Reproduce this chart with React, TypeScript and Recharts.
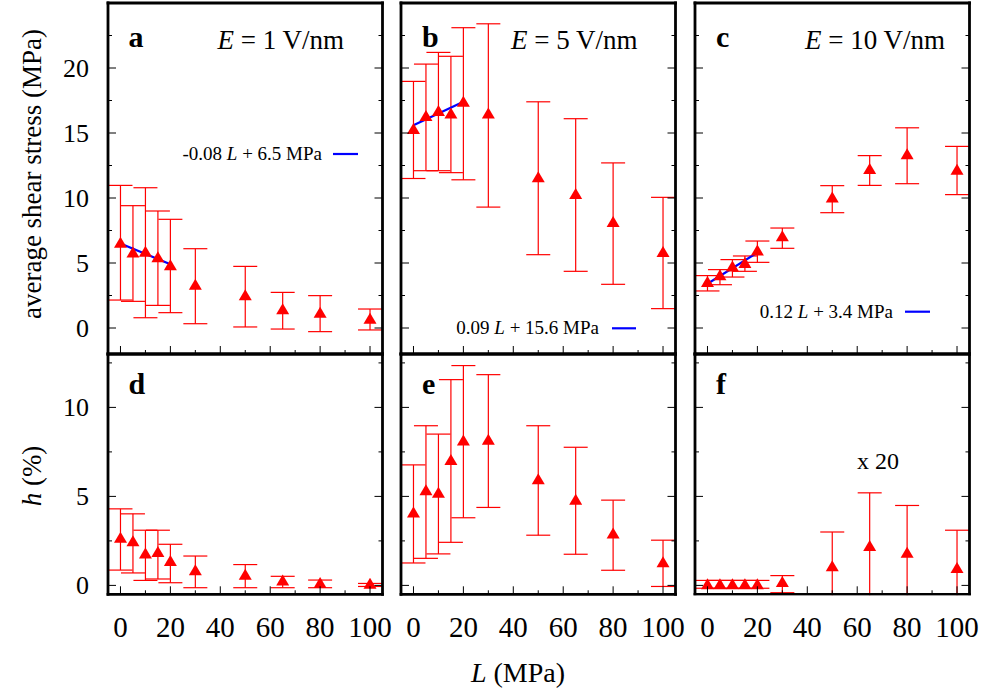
import React from "react";
import { ScatterChart, Scatter, ErrorBar, XAxis, YAxis, ReferenceLine } from "recharts";

const FONT = "Liberation Serif, Tinos, Times New Roman, DejaVu Serif, serif";
const RED = "#ff0000";
const BLUE = "#0000ff";

// load L (MPa)
const L = [0, 5, 10, 15, 20, 30, 50, 65, 80, 100];

// average shear stress (MPa), E = 1, 5, 10 V/nm
const stressE1 = [6.56, 5.8, 5.87, 5.44, 4.82, 3.33, 2.51, 1.44, 1.18, 0.72];
const stressE1Low = [2.15, 2.05, 0.79, 1.74, 1.18, 0.33, 0.08, -0.08, -0.28, -0.15];
const stressE1High = [10.97, 9.41, 10.79, 9.0, 8.36, 6.1, 4.74, 2.74, 2.49, 1.46];

const stressE5 = [15.3, 16.3, 16.7, 16.5, 17.4, 16.5, 11.6, 10.3, 8.15, 5.85];
const stressE5Low = [11.5, 12.1, 12.1, 11.95, 11.4, 9.3, 5.64, 4.36, 3.36, 1.49];
const stressE5High = [18.97, 20.3, 21.2, 20.9, 23.1, 23.4, 17.4, 16.1, 12.7, 10.05];

const stressE10 = [3.54, 4.05, 4.74, 5.0, 5.97, 7.05, 10.03, 12.23, 13.36, 12.18];
const stressE10Low = [2.85, 3.33, 3.92, 4.36, 5.05, 6.13, 8.87, 10.97, 11.1, 10.26];
const stressE10High = [4.03, 4.49, 5.26, 5.54, 6.69, 7.69, 10.95, 13.26, 15.4, 13.97];

// h (%)
const hE1 = [2.67, 2.48, 1.79, 1.88, 1.37, 0.85, 0.6, 0.28, 0.13, 0.09];
const hE1Low = [0.86, 0.7, 0.28, 0.36, 0.15, -0.13, -0.13, -0.13, -0.13, -0.06];
const hE1High = [4.3, 4.02, 3.1, 3.1, 2.31, 1.65, 1.17, 0.51, 0.3, 0.11];

const hE5 = [4.1, 5.34, 5.2, 7.05, 8.14, 8.18, 5.96, 4.81, 2.91, 1.3];
const hE5Low = [1.26, 1.52, 1.77, 2.42, 3.8, 4.38, 2.82, 1.75, 0.85, -0.06];
const hE5High = [6.77, 8.97, 8.5, 11.56, 12.35, 11.84, 8.97, 7.76, 4.79, 2.54];

// panel f is shown x 20
const hE10 = [0.06, 0.06, 0.06, 0.06, 0.06, 0.19, 1.07, 2.22, 1.84, 0.98];
const hE10Low = [-0.16, -0.16, -0.16, -0.16, -0.16, -0.41, -0.86, -0.76, -0.81, -1.14];
const hE10High = [0.28, 0.28, 0.28, 0.28, 0.28, 0.55, 3.0, 5.2, 4.49, 3.1];

// linear fits over L = 0..20
const fitL = [0, 20];
const fitE1 = [6.5, 4.9];
const fitE5 = [15.6, 17.4];
const fitE10 = [3.4, 5.8];
const fitLabels = ["-0.08", "0.09", "0.12"];
const fitIntercepts = ["6.5", "15.6", "3.4"];

const fields = ["1", "5", "10"];
const letters = ["a", "b", "c", "d", "e", "f"];

const X_TICKS = [0, 10, 20, 30, 40, 50, 60, 70, 80, 90, 100];
const TOP_Y_TICKS = [0, 2.5, 5, 7.5, 10, 12.5, 15, 17.5, 20, 22.5];
const BOT_Y_TICKS = [0, 2.5, 5, 7.5, 10, 12.5];

type Row = { L: number; v: number; err: [number, number] };

function rows(vals: number[], lows: number[], highs: number[]): Row[] {
  return L.map((l, i) => ({ L: l, v: vals[i], err: [vals[i] - lows[i], highs[i] - vals[i]] }));
}

const Triangle = (props: any) => {
  const { cx, cy } = props;
  if (cx == null || cy == null) return null;
  return <polygon points={`${cx},${cy - 6} ${cx - 6.5},${cy + 5} ${cx + 6.5},${cy + 5}`} fill={RED} />;
};

function makeTick(side: "bottom" | "top" | "left" | "right", major: number, labels: boolean) {
  return (props: any) => {
    const { x, y, payload } = props;
    const v = payload.value;
    const isMajor = Math.abs(v / major - Math.round(v / major)) < 1e-6;
    const len = isMajor ? 8 : 4;
    let x2 = x;
    let y2 = y;
    if (side === "bottom") y2 = y - len;
    if (side === "top") y2 = y + len;
    if (side === "left") x2 = x + len;
    if (side === "right") x2 = x - len;
    return (
      <g>
        <line x1={x} y1={y} x2={x2} y2={y2} stroke="#000" strokeWidth={1} />
        {labels && isMajor && side === "bottom" && (
          <text x={x} y={y + 43} textAnchor="middle" fill="#000" style={{ fontFamily: FONT, fontSize: 29 }}>
            {v}
          </text>
        )}
        {labels && isMajor && side === "left" && (
          <text x={x - 19} y={y} dy="0.35em" textAnchor="end" fill="#000" style={{ fontFamily: FONT, fontSize: 26 }}>
            {v}
          </text>
        )}
      </g>
    );
  };
}

const frame = { stroke: "#000", strokeWidth: 2.8, strokeLinecap: "square" as const };

type PanelProps = {
  left: number;
  top: number;
  w: number;
  h: number;
  yDomain: [number, number];
  yTicks: number[];
  data: Row[];
  fit?: number[];
  xLabels: boolean;
  yLabels: boolean;
};

function Panel({ left, top, w, h, yDomain, yTicks, data, fit, xLabels, yLabels }: PanelProps) {
  const ML = 60;
  const MR = 15;
  const MT = 15;
  const MB = 55;
  return (
    <div style={{ position: "absolute", left: left - ML, top: top - MT }}>
      <ScatterChart width={w + ML + MR} height={h + MT + MB} margin={{ top: 0, right: 0, bottom: 0, left: 0 }}>
        <XAxis
          xAxisId="b"
          dataKey="L"
          type="number"
          orientation="bottom"
          domain={[-5, 105]}
          ticks={X_TICKS}
          interval={0}
          height={MB}
          tickSize={0}
          tickMargin={0}
          tickLine={false}
          axisLine={frame}
          tick={makeTick("bottom", 20, xLabels)}
          allowDataOverflow
        />
        <XAxis
          xAxisId="t"
          type="number"
          orientation="top"
          domain={[-5, 105]}
          ticks={X_TICKS}
          interval={0}
          height={MT}
          tickSize={0}
          tickMargin={0}
          tickLine={false}
          axisLine={frame}
          tick={makeTick("top", 20, false)}
          allowDataOverflow
        />
        <YAxis
          yAxisId="l"
          dataKey="v"
          type="number"
          orientation="left"
          domain={yDomain}
          ticks={yTicks}
          interval={0}
          width={ML}
          tickSize={0}
          tickMargin={0}
          tickLine={false}
          axisLine={frame}
          tick={makeTick("left", 5, yLabels)}
          allowDataOverflow
        />
        <YAxis
          yAxisId="r"
          type="number"
          orientation="right"
          domain={yDomain}
          ticks={yTicks}
          interval={0}
          width={MR}
          tickSize={0}
          tickMargin={0}
          tickLine={false}
          axisLine={frame}
          tick={makeTick("right", 5, false)}
          allowDataOverflow
        />
        <Scatter xAxisId="b" yAxisId="l" data={data} dataKey="v" fill={RED} shape={Triangle} isAnimationActive={false}>
          <ErrorBar dataKey="err" direction="y" width={12} stroke={RED} strokeWidth={1.2} isAnimationActive={false} />
        </Scatter>
        {fit && (
          <ReferenceLine
            xAxisId="b"
            yAxisId="l"
            segment={[
              { x: fitL[0], y: fit[0] },
              { x: fitL[1], y: fit[1] },
            ]}
            stroke={BLUE}
            strokeWidth={2.2}
          />
        )}
      </ScatterChart>
    </div>
  );
}

const COL_LEFT = [107.5, 401, 695];
const PW = 274.5;
const TOP_Y = 2.7;
const TOP_H = 351;
const BOT_Y = 353.7;
const BOT_H = 240.3;

export default function App() {
  const topData = [
    rows(stressE1, stressE1Low, stressE1High),
    rows(stressE5, stressE5Low, stressE5High),
    rows(stressE10, stressE10Low, stressE10High),
  ];
  const botData = [rows(hE1, hE1Low, hE1High), rows(hE5, hE5Low, hE5High), rows(hE10, hE10Low, hE10High)];
  const fits = [fitE1, fitE5, fitE10];
  // legend: text right end, key start/end, key y, text baseline
  const legendPos = [
    { end: 322, k1: 333, k2: 358, ky: 154, by: 160 },
    { end: 599, k1: 612, k2: 636, ky: 328.3, by: 334 },
    { end: 893, k1: 905, k2: 930, ky: 311.7, by: 318 },
  ];
  const txt = (size: number, extra: React.CSSProperties = {}): React.CSSProperties => ({
    fontFamily: FONT,
    fontSize: size,
    ...extra,
  });

  return (
    <div
      style={{
        position: "absolute",
        left: 0,
        top: 0,
        width: 984,
        height: 692,
        background: "#fff",
        overflow: "hidden",
        fontFamily: FONT,
      }}
    >
      {COL_LEFT.map((x, i) => (
        <Panel
          key={"t" + i}
          left={x}
          top={TOP_Y}
          w={PW}
          h={TOP_H}
          yDomain={[-2, 25]}
          yTicks={TOP_Y_TICKS}
          data={topData[i]}
          fit={fits[i]}
          xLabels={false}
          yLabels={i === 0}
        />
      ))}
      {COL_LEFT.map((x, i) => (
        <Panel
          key={"b" + i}
          left={x}
          top={BOT_Y}
          w={PW}
          h={BOT_H}
          yDomain={[-0.5, 13]}
          yTicks={BOT_Y_TICKS}
          data={botData[i]}
          xLabels={true}
          yLabels={i === 0}
        />
      ))}
      <svg width={984} height={692} style={{ position: "absolute", left: 0, top: 0, pointerEvents: "none" }}>
        {/* error bars of panel f run past the lower frame: cut them at the border */}
        <rect x={690} y={595.5} width={285} height={16} fill="#fff" />
        {COL_LEFT.map((x, i) => (
          <g key={"lab" + i}>
            <text x={x + 21} y={47} style={txt(30, { fontWeight: "bold" })}>
              {letters[i]}
            </text>
            <text x={x + 110} y={49} style={txt(27)}>
              <tspan style={{ fontStyle: "italic" }}>E</tspan> = {fields[i]} V/nm
            </text>
            <text x={x + 21} y={394} style={txt(30, { fontWeight: "bold" })}>
              {letters[i + 3]}
            </text>
            <text x={legendPos[i].end} y={legendPos[i].by} textAnchor="end" style={txt(19)}>
              {fitLabels[i]} <tspan style={{ fontStyle: "italic" }}>L</tspan> + {fitIntercepts[i]} MPa
            </text>
            <line
              x1={legendPos[i].k1}
              x2={legendPos[i].k2}
              y1={legendPos[i].ky}
              y2={legendPos[i].ky}
              stroke={BLUE}
              strokeWidth={2.2}
            />
          </g>
        ))}
        <text x={857} y={469} style={txt(24)}>
          x 20
        </text>
        <text transform="translate(41,174) rotate(-90)" textAnchor="middle" style={txt(27)}>
          average shear stress (MPa)
        </text>
        <text transform="translate(41,476) rotate(-90)" textAnchor="middle" style={txt(27)}>
          <tspan style={{ fontStyle: "italic" }}>h</tspan> (%)
        </text>
        <text x={518} y={682} textAnchor="middle" style={txt(28)}>
          <tspan style={{ fontStyle: "italic" }}>L</tspan> (MPa)
        </text>
      </svg>
    </div>
  );
}
